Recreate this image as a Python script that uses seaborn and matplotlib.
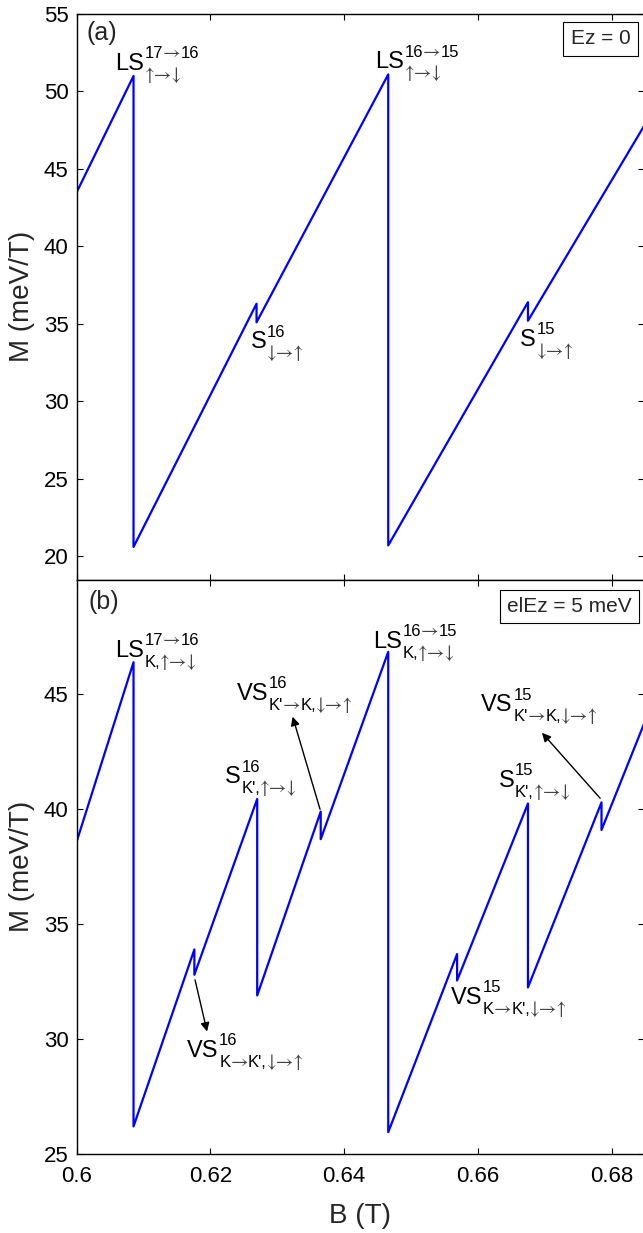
import re
import numpy as np
import pandas as pd
import matplotlib
matplotlib.use("Agg")
import matplotlib.pyplot as plt
import seaborn as sns

# ================= DATA =================
# (a) Ez = 0
B_a = [0.6, 0.6085, 0.6085, 0.6269, 0.6269, 0.6466, 0.6466, 0.6675, 0.6675, 0.6849]
M_a = [43.5, 51.0, 20.6, 36.3, 35.1, 51.1, 20.7, 36.4, 35.2, 47.8]

# (b) e|Ez| = 5 meV
B_b = [0.6, 0.6085, 0.6085, 0.6176, 0.6176, 0.6270, 0.6270, 0.6365, 0.6365,
       0.6466, 0.6466, 0.6569, 0.6569, 0.6675, 0.6675, 0.6785, 0.6785, 0.6849]
M_b = [38.6, 46.4, 26.2, 33.9, 32.8, 40.45, 31.9, 39.9, 38.7,
       46.85, 25.95, 33.7, 32.55, 40.25, 32.25, 40.3, 39.1, 43.75]

x_ticks = [0.6, 0.62, 0.64, 0.66, 0.68]
x_tick_labels = ["0.6", "0.62", "0.64", "0.66", "0.68"]
y_ticks_a = [20, 25, 30, 35, 40, 45, 50, 55]
y_ticks_b = [25, 30, 35, 40, 45]

# base, superscript, subscript, B, M
labels_a = [
    ("LS", "17\u219216", "\u2191\u2192\u2193", 0.6057, 51.39),
    ("LS", "16\u219215", "\u2191\u2192\u2193", 0.6446, 51.5),
    ("S", "16", "\u2193\u2192\u2191", 0.6260, 33.43),
    ("S", "15", "\u2193\u2192\u2191", 0.6663, 33.6),
]
labels_b = [
    ("LS", "17\u219216", "K,\u2191\u2192\u2193", 0.6057, 46.63),
    ("LS", "16\u219215", "K,\u2191\u2192\u2193", 0.6443, 47.02),
    ("VS", "16", "K'\u2192K,\u2193\u2192\u2191", 0.6239, 44.77),
    ("S", "16", "K',\u2191\u2192\u2193", 0.6222, 41.13),
    ("VS", "16", "K\u2192K',\u2193\u2192\u2191", 0.6165, 29.24),
    ("S", "15", "K',\u2191\u2192\u2193", 0.6631, 40.98),
    ("VS", "15", "K'\u2192K,\u2193\u2192\u2191", 0.6605, 44.27),
    ("VS", "15", "K\u2192K',\u2193\u2192\u2191", 0.6559, 31.53),
]
# (tail, head)
arrows_b = [
    ((0.6177, 32.58), (0.6195, 30.33)),
    ((0.6364, 40.0), (0.6323, 44.03)),
    ((0.6783, 40.48), (0.6696, 43.33)),
]

# ================= STYLE =================
sns.set_theme(style="ticks")
plt.rcParams["font.family"] = ["Liberation Sans", "DejaVu Sans"]
plt.rcParams.update({
    "axes.edgecolor": "black",
    "axes.linewidth": 1.0,
    "xtick.direction": "in",
    "ytick.direction": "in",
    "xtick.major.size": 4.5,
    "ytick.major.size": 4.5,
    "xtick.major.width": 0.8,
    "ytick.major.width": 0.8,
    "xtick.color": "black",
    "ytick.color": "black",
    "xtick.major.pad": 9,
    "ytick.major.pad": 6,
})

ARROW_FONT = ["STIXGeneral", "DejaVu Sans"]


def chain_text(ax, anchor, y, s, dy, size):
    # split into arrow / non-arrow runs and put them one after another
    prev = anchor
    first = True
    for run in re.findall("[\u2190-\u2193]+|[^\u2190-\u2193]+", s):
        is_arrow = run[0] in "\u2190\u2191\u2192\u2193"
        if is_arrow:
            kw = dict(family=ARROW_FONT, color="#444444", fontsize=size * 1.15)
        else:
            kw = dict(color="black", fontsize=size)
        prev = ax.annotate(run, xy=(1, y), xycoords=(prev, "data"),
                           xytext=(0.5 if first else 0, dy), textcoords="offset points",
                           ha="left", va="baseline", **kw)
        first = False


def script_label(ax, base, sup, sub, x, y):
    t = ax.text(x, y, base, fontsize=17, ha="left", va="baseline", color="black")
    chain_text(ax, t, y, sup, 8.4, 12)
    chain_text(ax, t, y, sub, -7.2, 12)


W, H = 643, 1233
fig = plt.figure(figsize=(W / 100, H / 100), dpi=100)
left = 76.7 / W
width = 1.002 - left
ax_a = fig.add_axes([left, 1 - 579.5 / H, width, (579.5 - 14) / H])
ax_b = fig.add_axes([left, 1 - 1154 / H, width, (1154 - 579.5) / H])

df_a = pd.DataFrame({"B": B_a, "M": M_a})
df_b = pd.DataFrame({"B": B_b, "M": M_b})
sns.lineplot(data=df_a, x="B", y="M", sort=False, estimator=None, ax=ax_a, color="#0000ff", lw=1.6)
sns.lineplot(data=df_b, x="B", y="M", sort=False, estimator=None, ax=ax_b, color="#0000ff", lw=1.6)

for ax in (ax_a, ax_b):
    ax.set_xlim(0.6, 0.6849)
    ax.set_xticks(x_ticks)
    ax.tick_params(top=True, right=True, labelsize=16)
    ax.set_ylabel("M (meV/T)", fontsize=20, labelpad=6)

ax_a.set_ylim(18.5, 55)
ax_a.set_yticks(y_ticks_a)
ax_a.set_xticklabels([])
ax_a.set_xlabel("")

ax_b.set_ylim(25, 50)
ax_b.set_yticks(y_ticks_b)
ax_b.set_xticklabels(x_tick_labels)
ax_b.set_xlabel("B (T)", fontsize=20, labelpad=11)

for base, sup, sub, x, y in labels_a:
    script_label(ax_a, base, sup, sub, x, y)
for base, sup, sub, x, y in labels_b:
    script_label(ax_b, base, sup, sub, x, y)

for tail, head in arrows_b:
    ax_b.annotate("", xy=head, xytext=tail,
                  arrowprops=dict(arrowstyle="-|>", color="black", lw=1.0,
                                  mutation_scale=13, shrinkA=0, shrinkB=0))

ax_a.text(0.0164, 0.9664, "(a)", transform=ax_a.transAxes, fontsize=18, ha="left", va="center")
ax_b.text(0.02, 0.96, "(b)", transform=ax_b.transAxes, fontsize=18, ha="left", va="center")

box = dict(boxstyle="square,pad=0.35", fc="white", ec="black", lw=0.8)
ax_a.text(0.9228, 0.9558, "Ez = 0", transform=ax_a.transAxes, fontsize=15,
          ha="center", va="center", bbox=box)
ax_b.text(0.8679, 0.953, "elEz = 5 meV", transform=ax_b.transAxes, fontsize=15,
          ha="center", va="center", bbox=box)

fig.savefig("out.png", dpi=100)
